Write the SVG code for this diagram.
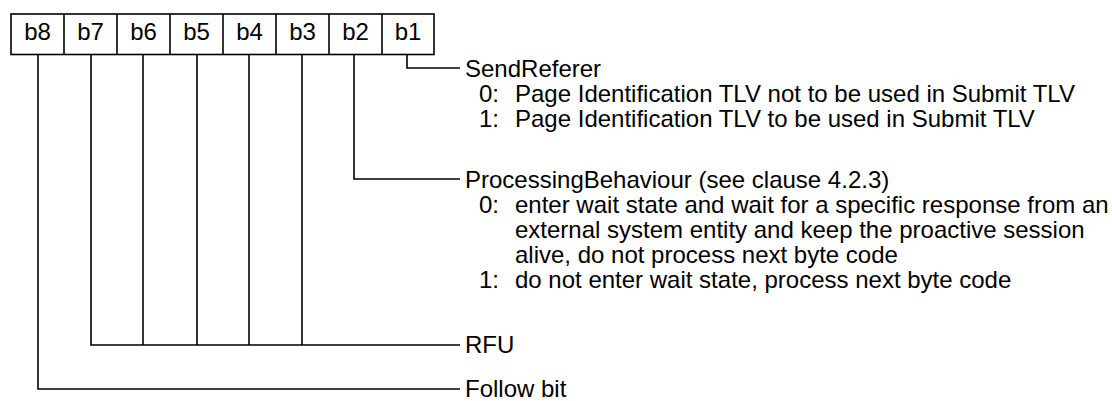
<svg xmlns="http://www.w3.org/2000/svg" width="1112" height="401" viewBox="0 0 1112 401">
<style>
text{font-family:"Liberation Sans",Arial,sans-serif;font-size:24px;fill:#000}
.c{text-anchor:middle}
.s{stroke:#000;stroke-width:1.6;fill:none}
</style>
<rect width="1112" height="401" fill="#fff"/>
<g id="bits">
<rect class="s" x="11" y="14" width="423" height="40.5"/>
<line class="s" x1="64" y1="14" x2="64" y2="54.5"/>
<line class="s" x1="117" y1="14" x2="117" y2="54.5"/>
<line class="s" x1="170" y1="14" x2="170" y2="54.5"/>
<line class="s" x1="223" y1="14" x2="223" y2="54.5"/>
<line class="s" x1="276" y1="14" x2="276" y2="54.5"/>
<line class="s" x1="329" y1="14" x2="329" y2="54.5"/>
<line class="s" x1="382" y1="14" x2="382" y2="54.5"/>
<text class="c" x="37.5" y="40">b8</text>
<text class="c" x="90.5" y="40">b7</text>
<text class="c" x="143.5" y="40">b6</text>
<text class="c" x="196.5" y="40">b5</text>
<text class="c" x="249.5" y="40">b4</text>
<text class="c" x="302.5" y="40">b3</text>
<text class="c" x="355.5" y="40">b2</text>
<text class="c" x="408" y="40">b1</text>
</g>
<g id="connectors">
<path class="s" d="M407,54.5 V68 H460"/>
<path class="s" d="M354,54.5 V179 H460"/>
<path class="s" d="M91,54.5 V345 H460"/>
<line class="s" x1="143" y1="54.5" x2="143" y2="345"/>
<line class="s" x1="197" y1="54.5" x2="197" y2="345"/>
<line class="s" x1="249" y1="54.5" x2="249" y2="345"/>
<line class="s" x1="302" y1="54.5" x2="302" y2="345"/>
<path class="s" d="M38,54.5 V389 H460"/>
</g>
<g id="sendreferer">
<text x="465" y="77">SendReferer</text>
<text x="479" y="102">0:</text><text x="515" y="102">Page Identification TLV not to be used in Submit TLV</text>
<text x="479" y="127">1:</text><text x="515" y="127">Page Identification TLV to be used in Submit TLV</text>
</g>
<g id="processing">
<text x="465" y="188">ProcessingBehaviour (see clause 4.2.3)</text>
<text x="479" y="213">0:</text><text x="515" y="213">enter wait state and wait for a specific response from an</text>
<text x="515" y="238">external system entity and keep the proactive session</text>
<text x="515" y="263">alive, do not process next byte code</text>
<text x="479" y="288">1:</text><text x="515" y="288">do not enter wait state, process next byte code</text>
</g>
<g id="rfu"><text x="465" y="353">RFU</text></g>
<g id="follow"><text x="465" y="397">Follow bit</text></g>
</svg>
